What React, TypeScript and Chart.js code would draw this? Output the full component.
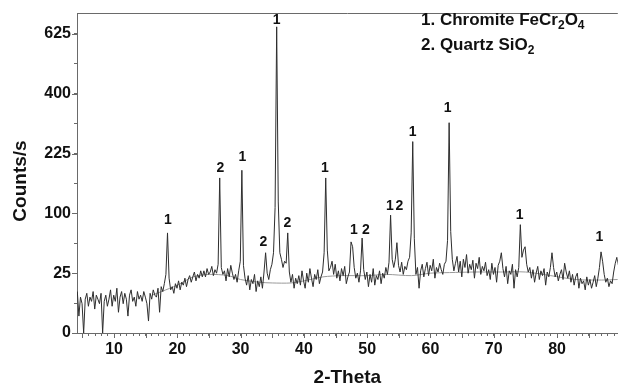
import { useEffect, useRef } from 'react';
import { Chart, registerables } from 'chart.js';

Chart.register(...registerables);

const FONT = '"Liberation Sans", Arial, Helvetica, sans-serif';

// Scan grid (2-Theta, degrees)
const twoThetaStart = 4.2;
const twoThetaStep = 0.25;

// Intensity (counts/s), one value per scan step
const counts = [
  12, 2, 9, 6, 0, 8, 11, 5, 9, 7, 12, 4, 10, 8, 6, 11, 0, 7, 10, 5,
  8, 13, 5, 10, 7, 14, 3, 9, 12, 6, 11, 8, 2, 10, 13, 7, 9, 5, 12, 8,
  10, 7, 12, 9, 6, 1, 11, 8, 13, 10, 9, 14, 3, 15, 12, 17, 24, 70, 21, 13,
  15, 11, 17, 14, 19, 13, 18, 16, 21, 15, 20, 23, 18, 22, 26, 19, 24, 21, 27, 22,
  27, 22, 29, 24, 26, 31, 23, 28, 25, 33, 168, 30, 24, 27, 19, 29, 22, 32, 25, 20,
  24, 18, 27, 36, 185, 32, 21, 16, 23, 13, 20, 17, 24, 12, 19, 15, 22, 14, 26, 45,
  25, 20, 28, 33, 45, 110, 655, 120, 45, 38, 30, 36, 34, 70, 26, 18, 24, 14, 21, 17,
  23, 16, 27, 19, 14, 25, 18, 29, 21, 15, 24, 20, 28, 17, 22, 26, 45, 168, 48, 27,
  30, 36, 24, 33, 21, 27, 19, 29, 23, 31, 17, 22, 26, 58, 52, 30, 21, 25, 18, 27,
  63, 28, 20, 26, 15, 24, 18, 29, 16, 23, 20, 27, 17, 25, 21, 30, 24, 35, 97, 38,
  30, 38, 57, 32, 26, 35, 24, 31, 28, 36, 40, 70, 256, 62, 24, 30, 14, 27, 33, 22,
  29, 35, 23, 32, 27, 38, 21, 30, 26, 34, 28, 24, 33, 36, 60, 309, 72, 38, 27, 34,
  41, 26, 36, 22, 38, 30, 43, 25, 33, 28, 37, 21, 34, 29, 40, 24, 31, 27, 35, 23,
  28, 20, 34, 24, 30, 18, 32, 36, 45, 29, 22, 31, 17, 27, 24, 33, 14, 28, 22, 30,
  82, 40, 48, 52, 33, 26, 30, 21, 28, 18, 25, 31, 20, 27, 23, 29, 16, 26, 22, 30,
  45, 30, 22, 26, 19, 24, 28, 20, 34, 26, 21, 27, 18, 24, 16, 22, 25, 14, 21, 17,
  19, 13, 22, 16, 20, 14, 18, 23, 15, 21, 30, 46, 36, 24, 18, 21, 15, 19, 17, 26,
  34, 40, 32,
];

// Fitted background curve
const backgroundTheta = [16, 17.5, 20, 22.5, 25, 28, 30, 33, 35, 38, 40, 43, 46, 50, 53, 57, 60, 63, 67, 71, 75, 79, 83, 87, 89.6];
const backgroundCounts = [10, 12, 16, 22, 24, 23, 20, 18, 17.5, 17.5, 19, 22, 23, 23, 24, 23, 25, 25.5, 26, 26, 26, 23, 20, 19.6, 20];

// Phase labels over the peaks (1 = chromite, 2 = quartz)
const peakLabelTheta = [18.5, 26.8, 30.3, 33.6, 35.7, 37.4, 43.3, 47.9, 49.8, 53.6, 55.1, 57.2, 62.7, 74.1, 86.7];
const peakLabelCounts = [89, 190, 217, 58, 685, 85, 190, 74, 74, 113, 113, 283, 354, 97, 64];
const peakLabelText = ['1', '2', '1', '2', '1', '2', '1', '1', '2', '1', '2', '1', '1', '1', '1'];

// Axis ticks
const yTickCounts = [0, 25, 100, 225, 400, 625];
const xTickLabels = [10, 20, 30, 40, 50, 60, 70, 80];
const xMin = 4.15;
const xMax = 89.6;
const yMaxSqrt = 26.75;

const AXIS_COLOR = '#6a6a6a';

function drawSubText(ctx: CanvasRenderingContext2D, parts: [string, boolean][], x: number, y: number) {
  let cx = x;
  for (const [t, sub] of parts) {
    ctx.font = sub ? `bold 12px ${FONT}` : `bold 17px ${FONT}`;
    ctx.fillText(t, cx, sub ? y + 4 : y);
    cx += ctx.measureText(t).width;
  }
}

const decorPlugin = {
  id: 'decor',
  afterDraw(chart: any) {
    const { ctx, chartArea: ca, scales } = chart;
    const xs = scales.x;
    const ys = scales.y;
    ctx.save();
    ctx.strokeStyle = AXIS_COLOR;
    ctx.lineWidth = 1;
    ctx.beginPath();
    ctx.moveTo(ca.left, Math.round(ca.top) + 0.5);
    ctx.lineTo(ca.right, Math.round(ca.top) + 0.5);
    // longer ticks every 5 degrees
    for (let v = 5; v <= xMax; v += 5) {
      const px = Math.round(xs.getPixelForValue(v)) + 0.5;
      ctx.moveTo(px, ca.bottom);
      ctx.lineTo(px, ca.bottom + 5);
    }
    for (const c of yTickCounts) {
      const py = Math.round(ys.getPixelForValue(Math.sqrt(c))) + 0.5;
      ctx.moveTo(ca.left, py);
      ctx.lineTo(ca.left - 5, py);
    }
    ctx.stroke();

    // peak labels
    ctx.fillStyle = '#111';
    ctx.font = `bold 14px ${FONT}`;
    ctx.textAlign = 'center';
    ctx.textBaseline = 'middle';
    peakLabelTheta.forEach((t, i) => {
      const px = xs.getPixelForValue(t);
      const py = ys.getPixelForValue(Math.sqrt(peakLabelCounts[i]));
      ctx.fillText(peakLabelText[i], px, py);
    });

    // legend
    ctx.textAlign = 'left';
    ctx.textBaseline = 'alphabetic';
    drawSubText(ctx, [['1. Chromite FeCr', false], ['2', true], ['O', false], ['4', true]], 421, 25);
    drawSubText(ctx, [['2. Quartz SiO', false], ['2', true]], 421, 50);

    // axis titles
    ctx.font = `bold 19px ${FONT}`;
    ctx.textAlign = 'center';
    ctx.textBaseline = 'alphabetic';
    ctx.fillText('2-Theta', (ca.left + ca.right) / 2, 383);
    ctx.save();
    ctx.translate(26, (ca.top + ca.bottom) / 2 + 8);
    ctx.rotate(-Math.PI / 2);
    ctx.fillText('Counts/s', 0, 0);
    ctx.restore();
    ctx.restore();
  },
};

export default function App() {
  const ref = useRef<HTMLCanvasElement>(null);
  useEffect(() => {
    const canvas = ref.current;
    if (!canvas) return;
    const scan = counts.map((c, i) => ({ x: twoThetaStart + i * twoThetaStep, y: Math.sqrt(c) }));
    const bg = backgroundTheta.map((t, i) => ({ x: t, y: Math.sqrt(backgroundCounts[i]) }));
    const chart = new Chart(canvas, {
      type: 'line',
      data: {
        datasets: [
          { data: scan, borderColor: '#2e2e2e', borderWidth: 1, pointRadius: 0, tension: 0 },
          { data: bg, borderColor: '#9a9a9a', borderWidth: 1, pointRadius: 0, tension: 0.3 },
        ],
      },
      options: {
        animation: false,
        responsive: true,
        maintainAspectRatio: false,
        devicePixelRatio: 1,
        layout: { padding: { top: 13, right: 0, left: 0, bottom: 0 } },
        plugins: { legend: { display: false }, tooltip: { enabled: false } },
        scales: {
          x: {
            type: 'linear',
            min: xMin,
            max: xMax,
            afterBuildTicks: (scale: any) => {
              const t = [];
              for (let v = Math.ceil(xMin); v <= xMax; v++) t.push({ value: v });
              scale.ticks = t;
            },
            afterFit: (scale: any) => { scale.height = 53; },
            grid: { drawOnChartArea: false, drawTicks: true, tickLength: 3, tickColor: AXIS_COLOR },
            border: { display: true, color: AXIS_COLOR, width: 1 },
            ticks: {
              autoSkip: false,
              maxRotation: 0,
              padding: 4,
              color: '#111',
              font: { family: FONT, size: 16, weight: 'bold' },
              callback: (v: any) => (xTickLabels.includes(Number(v)) ? String(v) : ''),
            },
          },
          y: {
            type: 'linear',
            min: 0,
            max: yMaxSqrt,
            afterBuildTicks: (scale: any) => {
              const t = [];
              for (let i = 0; i < yTickCounts.length; i++) {
                const s = Math.sqrt(yTickCounts[i]);
                t.push({ value: s });
                if (i < yTickCounts.length - 1) t.push({ value: (s + Math.sqrt(yTickCounts[i + 1])) / 2 });
              }
              scale.ticks = t;
            },
            afterFit: (scale: any) => { scale.width = 77; },
            grid: { drawOnChartArea: false, drawTicks: true, tickLength: 3, tickColor: AXIS_COLOR },
            border: { display: true, color: AXIS_COLOR, width: 1 },
            ticks: {
              autoSkip: false,
              padding: 3,
              color: '#111',
              font: { family: FONT, size: 16, weight: 'bold' },
              callback: (v: any) => {
                const c = Math.round(Number(v) * Number(v));
                return yTickCounts.includes(c) && Math.abs(Math.sqrt(c) - Number(v)) < 1e-6 ? String(c) : '';
              },
            },
          },
        },
      },
      plugins: [decorPlugin],
    } as any);
    return () => chart.destroy();
  }, []);
  return (
    <div style={{ position: 'fixed', left: 0, top: 0, width: 618, height: 386, background: '#fff' }}>
      <canvas ref={ref} />
    </div>
  );
}
